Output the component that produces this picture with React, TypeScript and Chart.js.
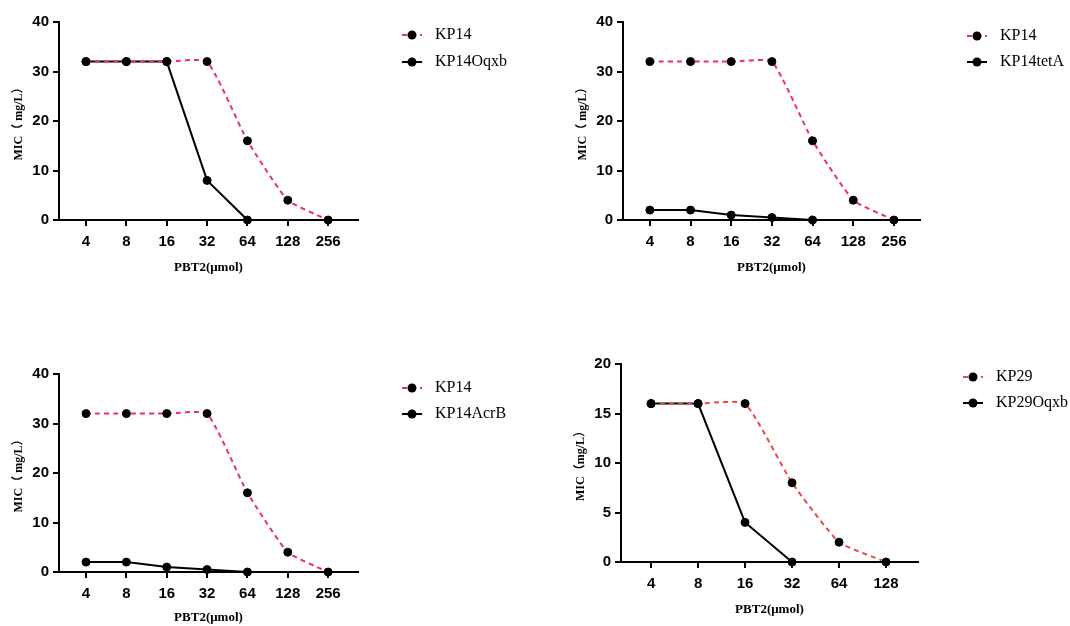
import React, { useEffect, useRef } from "react";
import { Chart, registerables } from "chart.js";

Chart.register(...registerables);

// ---------- data ----------
const doses7 = ["4", "8", "16", "32", "64", "128", "256"];
const doses6 = ["4", "8", "16", "32", "64", "128"];

const kp14 = [32, 32, 32, 32, 16, 4, 0];
const kp14Oqxb = [32, 32, 32, 8, 0];
const kp14tetA = [2, 2, 1, 0.5, 0];
const kp14AcrB = [2, 2, 1, 0.5, 0];
const kp29 = [16, 16, 16, 8, 2, 0];
const kp29Oqxb = [16, 16, 4, 0];

const yTicks40 = [0, 10, 20, 30, 40];
const yTicks20 = [0, 5, 10, 15, 20];

const PINK = "#EE2A7B";
const RED = "#EE4646";

// ---------- layout ----------
type PanelCfg = {
  x: number; y: number; w: number; h: number;
  left: number; right: number; top: number; bottom: number;
  xmin: number; xmax: number;
  labels: string[];
  yTicks: number[];
  ymax: number;
  yTitle: string;
  titleOffset: number;
  legendX: number; legendY: number; legendDy: number;
  series: { label: string; values: number[]; color: string; dashed: boolean }[];
};

const panels: PanelCfg[] = [
  {
    x: 0, y: 0, w: 535, h: 300,
    left: 59, right: 358, top: 22, bottom: 220,
    xmin: -0.67, xmax: 6.74, labels: doses7, yTicks: yTicks40, ymax: 40,
    yTitle: "MIC（ mg/L）", titleOffset: 48,
    legendX: 402, legendY: 35, legendDy: 27,
    series: [
      { label: "KP14", values: kp14, color: PINK, dashed: true },
      { label: "KP14Oqxb", values: kp14Oqxb, color: "#000", dashed: false },
    ],
  },
  {
    x: 560, y: 0, w: 510, h: 300,
    left: 63, right: 360, top: 22, bottom: 220,
    xmin: -0.66, xmax: 6.64, labels: doses7, yTicks: yTicks40, ymax: 40,
    yTitle: "MIC（ mg/L）", titleOffset: 48,
    legendX: 407, legendY: 36, legendDy: 26,
    series: [
      { label: "KP14", values: kp14, color: PINK, dashed: true },
      { label: "KP14tetA", values: kp14tetA, color: "#000", dashed: false },
    ],
  },
  {
    x: 0, y: 340, w: 535, h: 286,
    left: 59, right: 358, top: 34, bottom: 232,
    xmin: -0.67, xmax: 6.74, labels: doses7, yTicks: yTicks40, ymax: 40,
    yTitle: "MIC（ mg/L）", titleOffset: 46,
    legendX: 402, legendY: 48, legendDy: 26,
    series: [
      { label: "KP14", values: kp14, color: PINK, dashed: true },
      { label: "KP14AcrB", values: kp14AcrB, color: "#000", dashed: false },
    ],
  },
  {
    x: 560, y: 340, w: 510, h: 286,
    left: 61, right: 358, top: 24, bottom: 222,
    xmin: -0.64, xmax: 5.68, labels: doses6, yTicks: yTicks20, ymax: 20,
    yTitle: "MIC（mg/L）", titleOffset: 48,
    legendX: 403, legendY: 37, legendDy: 26,
    series: [
      { label: "KP29", values: kp29, color: RED, dashed: true },
      { label: "KP29Oqxb", values: kp29Oqxb, color: "#000", dashed: false },
    ],
  },
];

const sideLegend = {
  id: "sideLegend",
  afterDraw(chart: any, _args: any, opts: any) {
    const ctx = chart.ctx as CanvasRenderingContext2D;
    chart.data.datasets.forEach((ds: any, i: number) => {
      const x = opts.x0;
      const y = opts.y0 + i * opts.dy;
      ctx.save();
      ctx.strokeStyle = ds.borderColor;
      ctx.lineWidth = 2;
      ctx.setLineDash(ds.borderDash || []);
      ctx.beginPath();
      ctx.moveTo(x, y);
      ctx.lineTo(x + 20, y);
      ctx.stroke();
      ctx.setLineDash([]);
      ctx.fillStyle = "#000";
      ctx.beginPath();
      ctx.arc(x + 10, y, 4.5, 0, Math.PI * 2);
      ctx.fill();
      ctx.font = '16px "Liberation Serif", "Times New Roman", serif';
      ctx.textBaseline = "middle";
      ctx.textAlign = "left";
      ctx.fillText(ds.label, x + 33, y);
      ctx.restore();
    });
  },
};

const tickFont = { family: '"Liberation Sans", Arial, sans-serif', size: 15, weight: "bold" as const };
const titleFont = (size: number) => ({
  family: '"Liberation Serif", "Times New Roman", "Noto Sans CJK SC", serif',
  size,
  weight: "bold" as const,
});

function buildConfig(p: PanelCfg): any {
  const xH = p.h - p.bottom;
  const xTitleLine = 13 * 1.2;
  const yTitleLine = 12 * 1.2;
  return {
    type: "line",
    data: {
      datasets: p.series.map((s) => ({
        label: s.label,
        data: s.values.map((v, i) => ({ x: i, y: v })),
        borderColor: s.color,
        borderWidth: 2,
        borderDash: s.dashed ? [5, 4] : [],
        tension: s.dashed ? 0.15 : 0,
        pointRadius: 4,
        pointBorderWidth: 1,
        pointBackgroundColor: "#000",
        pointBorderColor: "#000",
        fill: false,
        clip: false,
      })),
    },
    options: {
      animation: false,
      responsive: false,
      devicePixelRatio: 1,
      layout: { padding: { left: 0, top: p.top, right: p.w - p.right, bottom: 0 } },
      plugins: {
        legend: { display: false },
        tooltip: { enabled: false },
        sideLegend: { x0: p.legendX, y0: p.legendY, dy: p.legendDy },
      },
      scales: {
        x: {
          type: "linear",
          min: p.xmin,
          max: p.xmax,
          bounds: "data",
          afterBuildTicks: (s: any) => {
            s.ticks = p.labels.map((_, i) => ({ value: i }));
          },
          afterFit: (s: any) => {
            s.height = xH;
          },
          ticks: {
            callback: (v: number) => p.labels[v] ?? "",
            font: tickFont,
            color: "#000",
            padding: 7,
            maxRotation: 0,
            autoSkip: false,
          },
          grid: { drawOnChartArea: false, drawTicks: true, tickLength: 6, color: "#000", lineWidth: 2 },
          border: { display: true, color: "#000", width: 2 },
          title: {
            display: true,
            text: "PBT2(μmol)",
            font: titleFont(13),
            color: "#000",
            padding: { top: 0, bottom: xH - p.titleOffset - xTitleLine / 2 },
          },
        },
        y: {
          type: "linear",
          min: 0,
          max: p.ymax,
          afterBuildTicks: (s: any) => {
            s.ticks = p.yTicks.map((v) => ({ value: v }));
          },
          afterFit: (s: any) => {
            s.width = p.left;
          },
          ticks: { font: tickFont, color: "#000", padding: 4 },
          grid: { drawOnChartArea: false, drawTicks: true, tickLength: 6, color: "#000", lineWidth: 2 },
          border: { display: true, color: "#000", width: 2 },
          title: {
            display: true,
            text: p.yTitle,
            font: titleFont(12),
            color: "#000",
            padding: { top: p.left - 40 - yTitleLine / 2, bottom: 0 },
          },
        },
      },
    },
    plugins: [sideLegend],
  };
}

function Panel({ p }: { p: PanelCfg }) {
  const ref = useRef<HTMLCanvasElement>(null);
  useEffect(() => {
    const chart = new Chart(ref.current as HTMLCanvasElement, buildConfig(p));
    return () => chart.destroy();
  }, [p]);
  return (
    <canvas
      ref={ref}
      width={p.w}
      height={p.h}
      style={{ position: "absolute", left: p.x, top: p.y, width: p.w, height: p.h }}
    />
  );
}

export default function App() {
  return (
    <div
      style={{
        position: "absolute",
        left: 0,
        top: 0,
        width: 1070,
        height: 626,
        background: "#fff",
        overflow: "hidden",
      }}
    >
      {panels.map((p, i) => (
        <Panel key={i} p={p} />
      ))}
    </div>
  );
}
